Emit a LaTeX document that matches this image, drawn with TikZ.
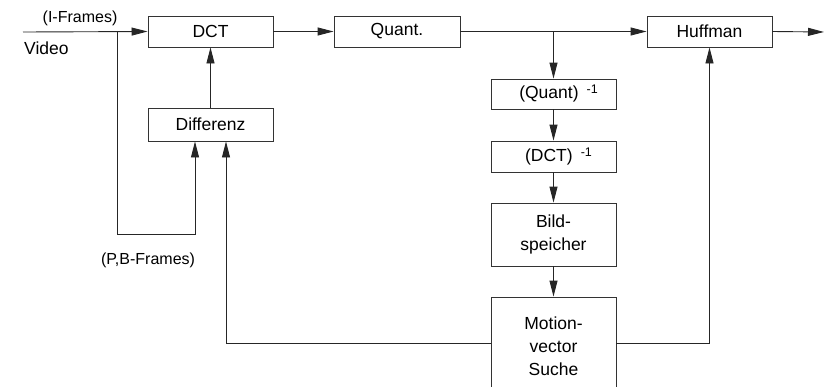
\documentclass[tikz,border=0pt]{standalone}
\usepackage{fontspec}
\setmainfont{Liberation Sans}
\usetikzlibrary{arrows.meta}
\begin{document}
\begin{tikzpicture}[x=1pt,y=-1pt,
  blk/.style={draw=black!80,line width=0.9pt,minimum width=125pt,inner sep=0pt,font=\fontsize{17.5}{21}\selectfont,align=center},
  con/.style={draw=black!85,line width=0.9pt},
  arr/.style={con,-{Triangle[length=16pt,width=8pt]}},
  lbl/.style={font=\fontsize{16}{19}\selectfont,inner sep=0pt}]
\useasboundingbox (0,0) rectangle (825,386);
\node[blk,minimum height=31pt] (dct) at (210.5,31.5) {DCT};
\node[blk,minimum height=31pt,minimum width=126pt] (quant) at (397,31.5) {Quant.};
\node[blk,minimum height=31pt] (huff) at (709.5,31.5) {Huffman};
\node[blk,minimum height=33pt] (diff) at (210.5,124.5) {Differenz};
\node[blk,minimum height=30pt] (qinv) at (553.5,94) {\hspace*{10pt}(Quant)\hspace{8pt}\raisebox{5pt}{\fontsize{12.5}{14}\selectfont -1}};
\node[blk,minimum height=31pt] (dinv) at (553.5,156.5) {\hspace*{10pt}(DCT)\hspace{8pt}\raisebox{5pt}{\fontsize{12.5}{14}\selectfont -1}};
\node[blk,minimum height=63pt] (bild) at (553.5,234.5) {Bild-\\[2pt]speicher};
\node[blk,minimum height=98pt] (mot) at (553.5,346) {Motion-\\[2pt]vector\\[2pt]Suche};
\coordinate (in) at (23,32);
\coordinate (br) at (117,32);
\coordinate (out) at (824,32);
\coordinate (tap) at (553.5,32);
\node[lbl] (iframes) at (80,18) {(I-Frames)};
\node[lbl,anchor=west,font=\fontsize{17.5}{21}\selectfont] (video) at (24,48) {Video};
\node[lbl] (pbframes) at (148,260) {(P,B-Frames)};
\draw[arr] (in) -- (dct.west);
\draw[arr] (br) -- (117,234) -- (195,234) -- (195,0 |- diff.south);
\draw[arr] (diff.north) -- (dct.south);
\draw[arr] (dct.east) -- (quant.west);
\draw[arr] (quant.east) -- (huff.west);
\draw[arr] (huff.east) -- (out);
\draw[arr] (tap) -- (qinv.north);
\draw[arr] (qinv.south) -- (dinv.north);
\draw[arr] (dinv.south) -- (bild.north);
\draw[arr] (bild.south) -- (mot.north);
\draw[arr] (mot.west |- 0,343) -- (226,343) -- (226,0 |- diff.south);
\draw[arr] (mot.east |- 0,343) -- (709.5,343) -- (huff.south);
\end{tikzpicture}
\end{document}
